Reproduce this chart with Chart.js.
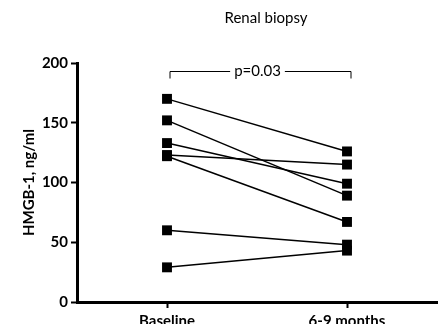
<!DOCTYPE html>
<html>
<head>
<meta charset="utf-8">
<script src="https://cdn.jsdelivr.net/npm/chart.js@4/dist/chart.umd.min.js"></script>
<style>
    html, body { margin: 0; padding: 0; background: #fff; }
    #wrap { width: 448px; height: 324px; }
</style>
</head>
<body>
<div id="wrap"><canvas id="chart" width="448" height="324"></canvas></div>
<script>
// time points on the x axis
const timePoints = ["Baseline", "6-9 months"]

// paired HMGB-1 values per patient, ng/ml
const baseline = [170, 152, 133, 123, 122, 60, 29]
const followUp = [126, 89, 99, 115, 67, 48, 43]

const yTicks = [0, 50, 100, 150, 200]
const title = "Renal biopsy"
const pLabel = "p=0.03"
const bracketValue = 193

const fontFamily = "Lato, 'Liberation Sans', sans-serif"

const datasets = baseline.map((b, i) => ({
    label: "Patient " + (i + 1),
    data: [b, followUp[i]],
    borderColor: "#000",
    backgroundColor: "#000",
    borderWidth: 1.5,
    pointStyle: "rect",
    pointRadius: 7,
    pointHoverRadius: 7,
    pointBorderWidth: 0,
    fill: false,
    tension: 0
}))

// title above the plot and the p-value bracket
const annotations = {
    id: "annotations",
    afterDraw(chart) {
        const ctx = chart.ctx
        const area = chart.chartArea
        const x = chart.scales.x
        const y = chart.scales.y

        ctx.save()
        ctx.fillStyle = "#000"
        ctx.textAlign = "center"
        ctx.textBaseline = "middle"
        ctx.font = "15px " + fontFamily
        ctx.fillText(title, (area.left + area.right) / 2 + 9, 18)

        const x1 = x.getPixelForValue(0) + 3
        const x2 = x.getPixelForValue(1) + 4
        const yb = Math.round(y.getPixelForValue(bracketValue)) + 0.5
        const mid = (x1 + x2) / 2 - 3
        ctx.font = "15px " + fontFamily
        const half = ctx.measureText(pLabel).width / 2 + 4

        ctx.strokeStyle = "#000"
        ctx.lineWidth = 1
        ctx.beginPath()
        ctx.moveTo(x1, yb + 7)
        ctx.lineTo(x1, yb)
        ctx.lineTo(mid - half, yb)
        ctx.moveTo(mid + half, yb)
        ctx.lineTo(x2, yb)
        ctx.lineTo(x2, yb + 7)
        ctx.stroke()

        ctx.fillText(pLabel, mid, yb)
        ctx.restore()
    }
}

new Chart(document.getElementById("chart"), {
    type: "line",
    data: {
        labels: timePoints,
        datasets: datasets
    },
    options: {
        responsive: false,
        animation: false,
        layout: {
            padding: { top: 63, right: 11, bottom: 0, left: 0 }
        },
        plugins: {
            legend: { display: false },
            tooltip: { enabled: false }
        },
        scales: {
            x: {
                type: "category",
                offset: true,
                afterFit: (scale) => { scale.height = 22 },
                border: { display: true, color: "#000", width: 3 },
                grid: {
                    offset: false,
                    drawOnChartArea: false,
                    drawTicks: true,
                    tickLength: 6,
                    tickWidth: 2,
                    tickColor: "#000"
                },
                ticks: {
                    color: "#000",
                    padding: 4,
                    maxRotation: 0,
                    font: { family: fontFamily, size: 15, weight: "bold" }
                }
            },
            y: {
                min: 0,
                max: 200,
                afterFit: (scale) => { scale.width = 77 },
                afterBuildTicks: (scale) => {
                    scale.ticks = yTicks.map(v => ({ value: v }))
                },
                border: { display: true, color: "#000", width: 3 },
                grid: {
                    drawOnChartArea: false,
                    drawTicks: true,
                    tickLength: 6,
                    tickWidth: 2,
                    tickColor: "#000"
                },
                ticks: {
                    color: "#000",
                    padding: 3,
                    font: { family: fontFamily, size: 15, weight: "bold" }
                },
                title: {
                    display: true,
                    text: "HMGB-1, ng/ml",
                    color: "#000",
                    padding: { top: 20, bottom: 0 },
                    font: { family: fontFamily, size: 15, weight: "bold" }
                }
            }
        }
    },
    plugins: [annotations]
})
</script>
</body>
</html>
